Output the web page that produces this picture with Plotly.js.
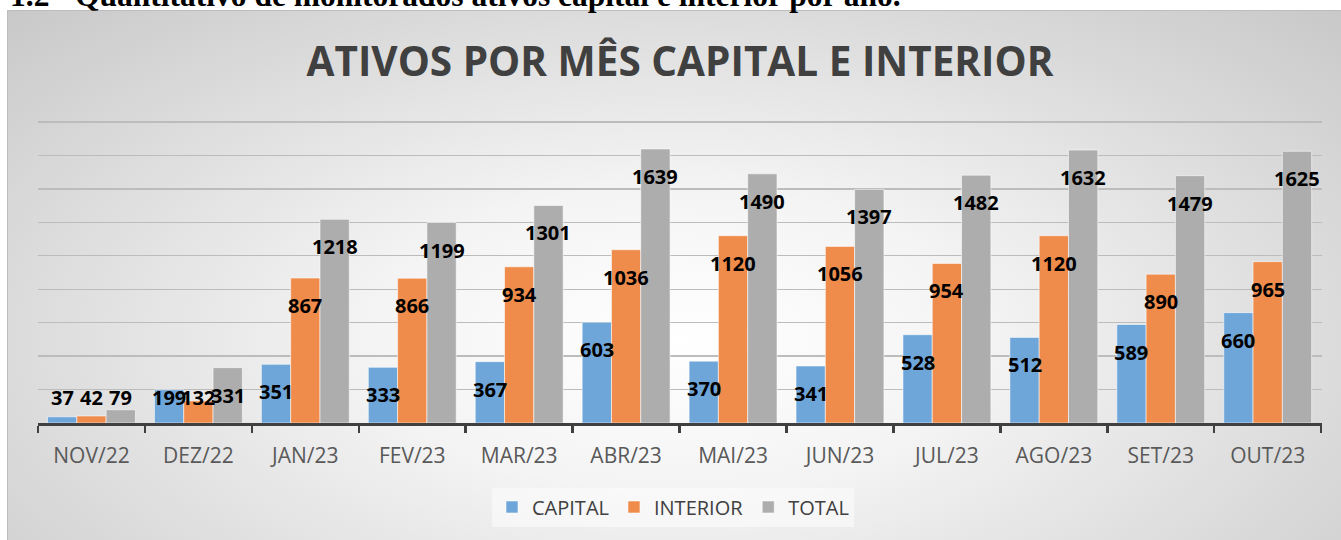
<!DOCTYPE html>
<html>
<head>
<meta charset="utf-8">
<script src="https://cdn.plot.ly/plotly-3.0.1.min.js"></script>
<style>
  html, body { margin: 0; padding: 0; width: 1341px; height: 540px; overflow: hidden; background: #ffffff; }
  #heading { position: absolute; left: 10px; top: -22px; font-family: "Liberation Serif", "Times New Roman", serif; font-weight: bold; font-size: 31.5px; color: #000; white-space: nowrap; line-height: 36px; z-index: 3; }
  #heading .num { display: inline-block; width: 65px; }
  #frame { position: absolute; left: 7px; top: 10px; width: 1334px; height: 530px; border-top: 1px solid #bdbdbd; border-left: 1px solid #bdbdbd;
    background: radial-gradient(ellipse 75% 95% at 50% 62%, #ffffff 0%, #f4f4f4 30%, #dcdcdc 65%, #c4c4c4 100%); z-index: 1; }
  #chart { position: absolute; left: 0; top: 0; width: 1341px; height: 540px; z-index: 2; }
</style>
</head>
<body>
<div id="heading"><span class="num">1.2</span>Quantitativo de monitorados ativos capital e interior por ano.</div>
<div id="frame"></div>
<div id="chart"></div>
<script>
const months = ["NOV/22","DEZ/22","JAN/23","FEV/23","MAR/23","ABR/23","MAI/23","JUN/23","JUL/23","AGO/23","SET/23","OUT/23"];
const capital = [37,199,351,333,367,603,370,341,528,512,589,660];
const interior = [42,132,867,866,934,1036,1120,1056,954,1120,890,965];
const total = [79,331,1218,1199,1301,1639,1490,1397,1482,1632,1479,1625];
const seriesNames = ["CAPITAL","INTERIOR","TOTAL"];
const seriesColors = ["#6fa6da","#ef8c4b","#adadad"];

const W = 1341, H = 540;
const margin = {l: 38, r: 19, t: 120, b: 117};
const yMax = 1812;
const plotH = H - margin.t - margin.b;
const upp = yMax / plotH; // data units per pixel
const bargap = 0.178;
const barW = (1 - bargap) / 3;

const allSeries = [capital, interior, total];
const traces = allSeries.map((vals, s) => ({
  type: "bar",
  name: seriesNames[s],
  x: months,
  y: vals,
  marker: {color: seriesColors[s], line: {color: "rgba(255,255,255,0.55)", width: 1}},
  hoverinfo: "skip"
}));

const annotations = [];
allSeries.forEach((vals, s) => {
  vals.forEach((v, i) => {
    annotations.push({
      x: i + (s - 1) * barW,
      y: Math.max(v - 27.5 * upp, 25.5 * upp),
      xref: "x", yref: "y",
      text: String(v),
      showarrow: false,
      xanchor: "center", yanchor: "middle",
      font: {family: "Open Sans", size: 20, color: "#000000", weight: 700}
    });
  });
});

const layout = {
  width: W, height: H,
  margin: margin,
  paper_bgcolor: "rgba(0,0,0,0)",
  plot_bgcolor: "rgba(0,0,0,0)",
  barmode: "group",
  bargap: bargap,
  bargroupgap: 0,
  title: {
    text: "ATIVOS POR MÊS CAPITAL E INTERIOR",
    font: {family: "Open Sans", size: 40.5, color: "#404040", weight: 700},
    x: 0.5, xref: "paper", xanchor: "center",
    y: 1 - 61.5 / H, yref: "container", yanchor: "middle"
  },
  xaxis: {
    type: "category",
    showline: true, linecolor: "#404040", linewidth: 3,
    ticks: "outside", tickson: "boundaries", ticklen: 7, tickwidth: 2.5, tickcolor: "#404040",
    ticklabelstandoff: 12,
    tickfont: {family: "Open Sans", size: 21, color: "#595959"},
    showgrid: false, zeroline: false, fixedrange: true
  },
  yaxis: {
    range: [0, yMax], tick0: 0, dtick: 200, showticklabels: false,
    showgrid: true, gridcolor: "#bcbcbc", gridwidth: 1.3,
    zeroline: false, showline: false, ticks: "", fixedrange: true
  },
  legend: {
    orientation: "h",
    x: 673 / W, xref: "container", xanchor: "center",
    y: 1 - 507 / H, yref: "container", yanchor: "middle",
    bgcolor: "rgba(252,252,252,0.6)",
    font: {family: "Open Sans", size: 20, color: "#404040"},
    itemclick: false, itemdoubleclick: false
  },
  annotations: annotations,
  showlegend: true
};

Plotly.newPlot("chart", traces, layout, {displayModeBar: false, staticPlot: true});
</script>
</body>
</html>
